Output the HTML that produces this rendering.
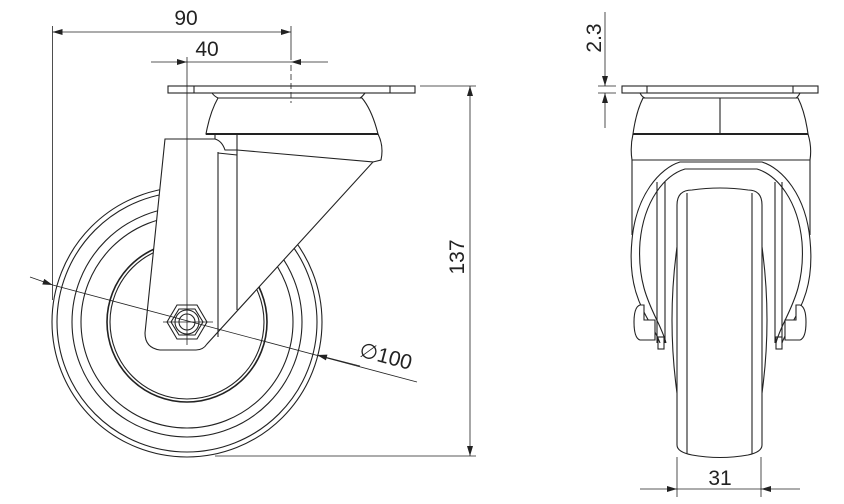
<!DOCTYPE html>
<html><head><meta charset="utf-8"><style>
html,body{margin:0;padding:0;background:#fff;}
svg{display:block;}
text{font-family:"Liberation Sans",sans-serif;fill:#222;}
</style></head><body>
<svg width="844" height="504" viewBox="0 0 844 504" xmlns="http://www.w3.org/2000/svg">
<defs>
<marker id="a" viewBox="0 0 10 6" refX="10" refY="3" markerWidth="18" markerHeight="6" markerUnits="userSpaceOnUse" orient="auto"><path d="M0,0 L10,3 L0,6 Z" fill="#222"/></marker>
</defs>
<g fill="none" stroke="#222" stroke-width="1.1">
<!-- LEFT VIEW -->
<circle cx="187" cy="322" r="135"/>
<circle cx="187" cy="322" r="130"/>
<circle cx="187" cy="322" r="115"/>
<circle cx="187" cy="322" r="106"/>
<circle cx="187" cy="322" r="80" stroke-width="1.6"/>
<circle cx="187" cy="322" r="77"/>
<path d="M215,134 L378,134 Q384,146 381,160 L373,162 L232,160 L215,139 Z" fill="#fff"/>
<path d="M218,98 L362,98 Q372,110 378,134 L206,134 Q210,112 218,98 Z" fill="#fff"/>
<line x1="206" y1="134" x2="378" y2="134" stroke-width="2"/>
<path d="M212,93 L365,93 Q362,97 360,98 L218,98 Q214,96 212,93 Z" fill="#fff"/>
<rect x="168" y="86" width="247" height="7" fill="#fff"/>
<line x1="194" y1="86" x2="194" y2="93"/><line x1="390" y1="86" x2="390" y2="93"/>
<path d="M165,139 L215,139 Q222,141 225,150 L237,150 L373,162 L207,344 Q203,350 196,350 L160,350 Q145,348 145,333 Z" fill="#fff"/>
<line x1="218" y1="152" x2="218" y2="337"/>
<line x1="237" y1="135" x2="237" y2="310"/>
<line x1="218" y1="153" x2="237" y2="155"/>
<polygon points="207,322 197,339 177,339 167,322 177,305 197,305" fill="#fff"/>
<polygon points="203,322 195,335 179,335 171,322 179,309 195,309"/>
<circle cx="187" cy="322" r="12"/>
<circle cx="187" cy="322" r="8"/>
<line x1="163" y1="322" x2="213" y2="322" stroke-width="0.8"/>
<line x1="187" y1="57" x2="187" y2="345" stroke-width="0.8"/>
<line x1="291" y1="65" x2="291" y2="103" stroke-width="0.8" stroke-dasharray="6,3"/>
<line x1="52.5" y1="26" x2="52.5" y2="300" stroke-width="0.8"/>
<line x1="291" y1="26" x2="291" y2="60" stroke-width="0.8"/>
<line x1="70" y1="32" x2="52.5" y2="32" stroke-width="0.8" marker-end="url(#a)"/>
<line x1="70" y1="32" x2="291" y2="32" stroke-width="0.8" marker-end="url(#a)"/>
<line x1="151" y1="62" x2="187" y2="62" stroke-width="0.8" marker-end="url(#a)"/>
<line x1="328" y1="62" x2="291" y2="62" stroke-width="0.8" marker-end="url(#a)"/>
<line x1="187" y1="62" x2="291" y2="62" stroke-width="0.8"/>
<line x1="30" y1="277" x2="52.7" y2="285" stroke-width="0.8" marker-end="url(#a)"/>
<line x1="52.7" y1="285" x2="417" y2="382" stroke-width="0.8"/>
<line x1="360" y1="366" x2="317" y2="355" stroke-width="0.8" marker-end="url(#a)"/>
<line x1="420" y1="86" x2="476" y2="86" stroke-width="0.8"/>
<line x1="215" y1="456" x2="476" y2="456" stroke-width="0.8"/>
<line x1="470" y1="110" x2="470" y2="86" stroke-width="0.8" marker-end="url(#a)"/>
<line x1="470" y1="110" x2="470" y2="456" stroke-width="0.8" marker-end="url(#a)"/>

<!-- RIGHT VIEW -->
<path d="M632,160 Q630,147 633,134 L808,134 Q812,147 810,160 Z" fill="#fff"/>
<line x1="632" y1="160" x2="632" y2="235"/><line x1="810" y1="160" x2="810" y2="235"/>
<path d="M643,98 L798,98 Q805,112 808,134 L633,134 Q636,112 643,98 Z" fill="#fff"/>
<line x1="720" y1="98" x2="720" y2="134"/>
<line x1="633" y1="134" x2="808" y2="134" stroke-width="2"/>
<path d="M640,93 L800,93 Q798,97 796,98 L645,98 Q642,97 640,93 Z" fill="#fff"/>
<rect x="622" y="86" width="196" height="7" fill="#fff"/>
<line x1="647" y1="86" x2="647" y2="93"/><line x1="793" y1="86" x2="793" y2="93"/>
<path d="M660,343 C652,320 626,300 632,240 C636,195 660,168 680,162 L762,162 C782,168 806,195 810,240 C816,300 790,320 782,343"/>
<path d="M666,343 C660,318 636,296 640,242 C644,200 665,175 685,169 L757,169 C777,175 798,200 802,242 C806,296 782,318 776,343"/>
<line x1="657" y1="182" x2="657" y2="343"/><line x1="665" y1="182" x2="665" y2="343"/>
<line x1="775" y1="182" x2="775" y2="343"/><line x1="782" y1="182" x2="782" y2="343"/>
<rect x="658" y="337" width="6" height="12"/><rect x="776" y="337" width="6" height="12"/>
<path d="M640,305 L644,305 L644,320 L655,320 L655,340 L640,340 Q634,338 634,322 Q634,307 640,305 Z" fill="#fff"/>
<path d="M800,305 L796,305 L796,320 L785,320 L785,340 L800,340 Q806,338 806,322 Q806,307 800,305 Z" fill="#fff"/>
<path d="M677,247 Q667,320 677,393 M762,247 Q772,320 762,393"/>
<path d="M677,205 Q677,190 692,190 Q720,186 748,190 Q762,190 762,205 L762,445 Q762,452 748,455 Q720,460 692,455 Q677,452 677,445 Z" fill="#fff"/>
<line x1="687" y1="193" x2="687" y2="454"/><line x1="752" y1="193" x2="752" y2="454"/>
<line x1="605" y1="12" x2="605" y2="86" stroke-width="0.8" marker-end="url(#a)"/>
<line x1="605" y1="128" x2="605" y2="93" stroke-width="0.8" marker-end="url(#a)"/>
<line x1="598" y1="86" x2="616" y2="86" stroke-width="0.8"/>
<line x1="598" y1="93" x2="616" y2="93" stroke-width="0.8"/>
<line x1="677" y1="457" x2="677" y2="497" stroke-width="0.8"/>
<line x1="761" y1="457" x2="761" y2="497" stroke-width="0.8"/>
<line x1="640" y1="489" x2="677" y2="489" stroke-width="0.8" marker-end="url(#a)"/>
<line x1="800" y1="489" x2="761" y2="489" stroke-width="0.8" marker-end="url(#a)"/>
<line x1="677" y1="489" x2="761" y2="489" stroke-width="0.8"/>
</g>
<text x="186" y="25" font-size="21" text-anchor="middle">90</text>
<text x="207" y="56" font-size="21" text-anchor="middle">40</text>
<text x="464" y="257" font-size="21" text-anchor="middle" transform="rotate(-90 464 257)">137</text>
<text x="601" y="38" font-size="21" text-anchor="middle" transform="rotate(-90 601 38)">2.3</text>
<text x="720" y="485" font-size="21" text-anchor="middle">31</text>
<text x="384" y="363" font-size="21" text-anchor="middle" transform="rotate(15 384 363)">∅100</text>
</svg>
</body></html>
